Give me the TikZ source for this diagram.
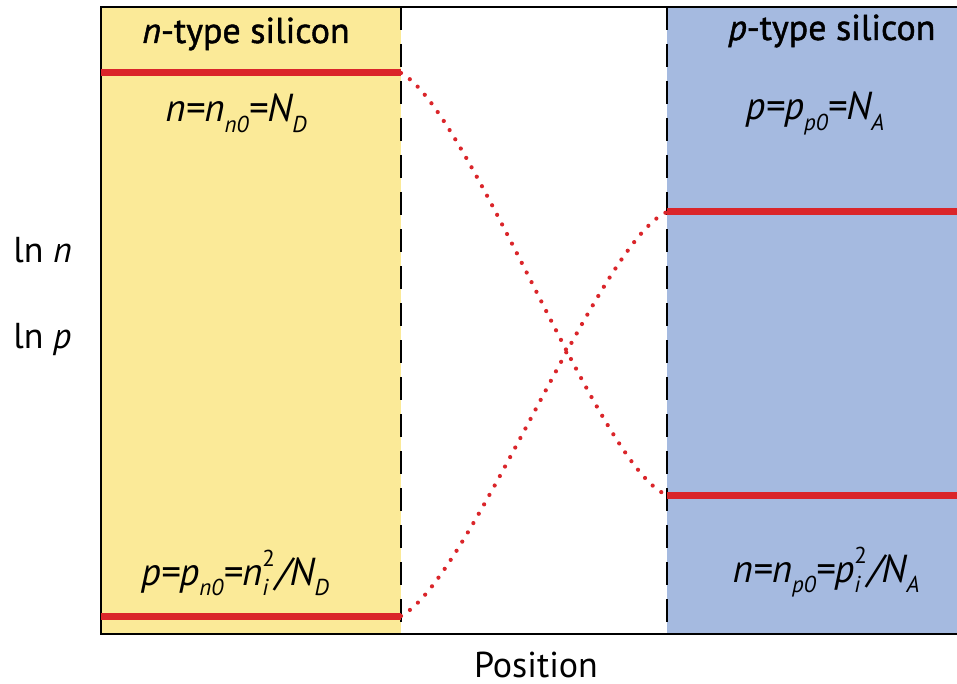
\documentclass[tikz,border=0pt]{standalone}
\usepackage{fontspec}
\setmainfont{PT Sans}
\newfontfamily\headfont[FakeBold=1.3]{PT Sans}
\usepackage{xcolor}
\usetikzlibrary{positioning}

\definecolor{nfill}{RGB}{251,234,152}
\definecolor{pfill}{RGB}{165,186,224}
\definecolor{level}{RGB}{218,37,42}

% small lowered subscript and stacked sub/superscript
\newcommand{\lsub}[1]{\raisebox{-0.55ex}{\fontsize{11.5}{12}\selectfont\itshape #1}}
\newcommand{\subsup}[2]{\makebox[0.36em][l]{\makebox[0pt][l]{\raisebox{0.95ex}{\fontsize{11.5}{12}\selectfont\upshape #2}}\raisebox{-0.55ex}{\fontsize{11.5}{12}\selectfont\itshape #1}}}

\begin{document}
\begin{tikzpicture}[
    x=0.5pt, y=-0.5pt,
    boundary/.style={draw=black, line width=1pt, dash pattern=on 11.5pt off 7pt},
    frame/.style={draw=black, line width=0.8pt},
    flat/.style={draw=level, line width=3.5pt},
    tail/.style={draw=level, line width=2.1pt, line cap=round, dash pattern=on 0pt off 5.4pt},
    title/.style={font=\fontsize{18}{20}\headfont, anchor=base, inner sep=0pt},
    conc/.style={font=\fontsize{19.5}{22}\selectfont\itshape, anchor=base, inner sep=0pt},
    axis/.style={font=\fontsize{18}{20}\selectfont, anchor=base west, inner sep=0pt}
]
\useasboundingbox (0,0) rectangle (957,684);

% Regions
\fill[nfill] (101,7) rectangle (401,634);
\fill[pfill] (667,7) rectangle (957,634);
\draw[frame] (101,7) rectangle (958,634);
\draw[boundary] (401,7) -- (401,634);
\draw[boundary] (667,7) -- (667,634);

% Level end points
\coordinate (nl) at (101,73);
\coordinate (nr) at (401,73);
\coordinate (pnl) at (101,616);
\coordinate (pnr) at (401,616);
\coordinate (ppl) at (667,212);
\coordinate (ppr) at (957,212);
\coordinate (npl) at (667,495);
\coordinate (npr) at (957,495);

% Flat levels
\draw[flat] (nl) -- (nr);
\draw[flat] (pnl) -- (pnr);
\draw[flat] (ppl) -- (ppr);
\draw[flat] (npl) -- (npr);

% Depletion region transitions
\draw[tail] (nr) .. controls (470,110) and (600,470) .. (npl);
\draw[tail] (pnr) .. controls (470,580) and (600,240) .. (ppl);

% Labels
\node[title] (ntitle) at (246,43) {\textit{n}-type silicon};
\node[title] (ptitle) at (832,40) {\textit{p}-type silicon};
\node[conc] (nmaj) at (236,122) {n=n\lsub{n0}=N\lsub{D}};
\node[conc] (pmaj) at (815,120) {p=p\lsub{p0}=N\lsub{A}};
\node[conc] (pmin) at (235,585) {p=p\lsub{n0}=n\subsup{i}{2}/N\lsub{D}};
\node[conc] (nmin) at (826,582) {n=n\lsub{p0}=p\subsup{i}{2}/N\lsub{A}};
\node[axis] (lnn) at (13,263) {ln \textit{n}};
\node[axis] (lnp) at (13,348) {ln \textit{p}};
\node[title, font=\fontsize{18}{20}\selectfont] (pos) at (536,677) {Position};

\end{tikzpicture}
\end{document}
